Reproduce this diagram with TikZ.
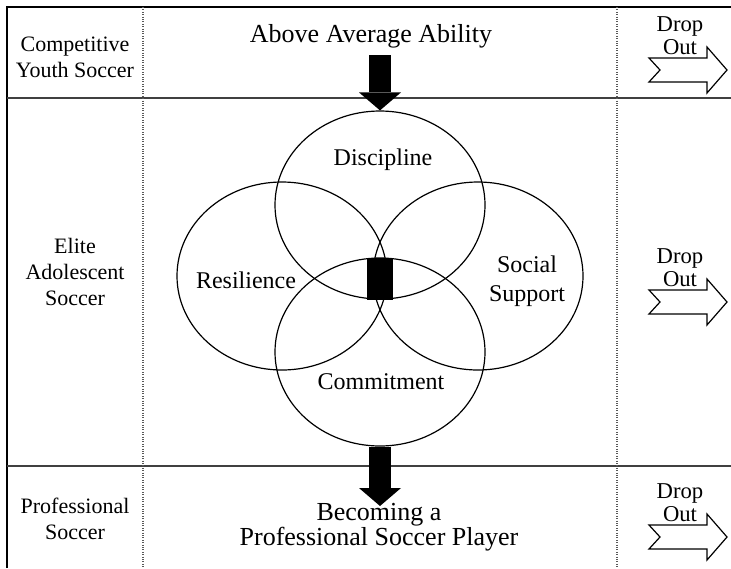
\documentclass[tikz,border=0pt]{standalone}
\usepackage{fontspec}
\setmainfont{Liberation Serif}
\usetikzlibrary{arrows.meta,shapes.geometric}

\begin{document}
\begin{tikzpicture}[
x=0.75pt, y=-0.75pt,
frame/.style={line width=1.1pt},
divider/.style={draw=black!75, line width=1.5pt},
column/.style={draw=black!65, line width=0.8pt, densely dotted},
stage/.style={align=center, font=\fontsize{16.5}{19.5}\selectfont},
factor/.style={ellipse, draw, line width=0.9pt, minimum width=157.5pt, minimum height=141pt, inner sep=0pt},
word/.style={align=center, font=\fontsize{18}{22}\selectfont},
big/.style={align=center, font=\fontsize{19.5}{19}\selectfont},
push/.style={line width=16.5pt, -{Triangle[width=31.5pt,length=13.5pt,line width=0pt]}},
quit/.style={draw, line width=0.9pt, fill=white, line join=miter},
dropword/.style={align=center, font=\fontsize{17}{17.25}\selectfont}
]
\useasboundingbox (0,0) rectangle (731,568);

% table lines
\draw[frame] (7,568) -- (7,7) -- (731,7);
\draw[divider] (7,98) -- (731,98);
\draw[divider] (7,466) -- (731,466);
\draw[column] (143,7) -- (143,568);
\draw[column] (617,7) -- (617,568);

% stages
\node[stage] (youth) at (75,57) {Competitive\\Youth Soccer};
\node[stage] (elite) at (75,272) {Elite\\Adolescent\\Soccer};
\node[stage] (pro) at (75,519) {Professional\\Soccer};

% the four factors
\node[factor] (disc) at (380,205) {};
\node[factor] (resil) at (282,276) {};
\node[factor] (social) at (478,276) {};
\node[factor] (commit) at (380,352) {};
\node[fill, minimum width=19.5pt, minimum height=31.5pt, inner sep=0pt] (core) at (380,279) {};

\node[word] (disctext) at (383,160) {Discipline};
\node[word] (resiltext) at (246,280) {Resilience};
\node[word] (socialtext) at (527,281) {Social\\Support};
\node[word] (committext) at (381,382) {Commitment};

% in and out
\node[big] (above) at (371,36) {Above Average Ability};
\node[big] (becoming) at (379,527) {Becoming a\\Professional Soccer Player};
\coordinate (start) at (380,55);
\coordinate (goal) at (380,506);
\draw[push] (start) -- (disc.north);
\draw[push] (commit.south) -- (goal);

% drop out arrows
\foreach \y [count=\i] in {70,302,537} {
  \draw[quit] (649,\y-12) -- (707,\y-12) -- (707,\y-23) -- (727,\y)
    -- (707,\y+23) -- (707,\y+12) -- (649,\y+12) -- (660,\y) -- cycle;
  \node[dropword] (drop\i) at (680,\y-34) {Drop\\Out};
}
\end{tikzpicture}
\end{document}
